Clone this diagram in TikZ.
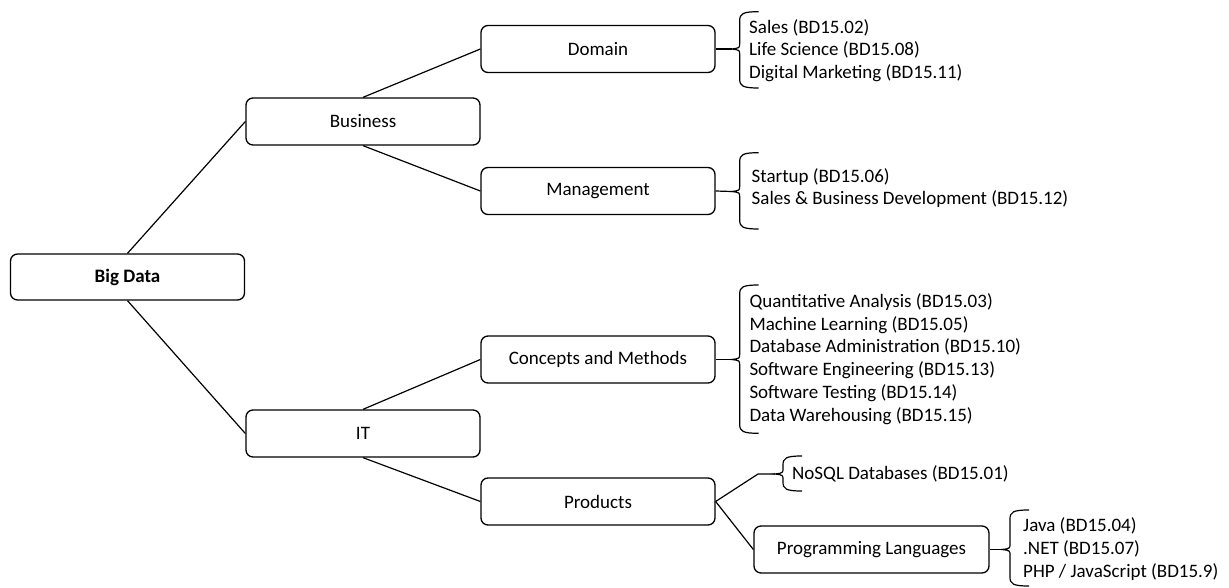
\documentclass[tikz,border=0pt]{standalone}
\usepackage{fontspec}
\setmainfont{Carlito}
\newcommand{\curlyb}[4]{%
  \draw[brc] (#1+27,#2) .. controls (#1+11,#2) and (#1+8,#2+2) .. (#1+8,#2+9)
    -- (#1+8,#3-6) .. controls (#1+8,#3-1) .. (#1,#3)
    .. controls (#1+8,#3+1) .. (#1+8,#3+6)
    -- (#1+8,#4-9) .. controls (#1+8,#4-2) and (#1+11,#4) .. (#1+27,#4);}
\begin{document}
\begin{tikzpicture}[x=1pt,y=-1pt,
  box/.style={draw, rounded corners=7pt, line width=1.3pt, minimum width=234pt,
    minimum height=47pt, inner sep=0pt, font=\fontsize{19}{22}\selectfont},
  conn/.style={line width=1.2pt},
  brc/.style={line width=1.2pt},
  lst/.style={anchor=west, align=left, inner sep=0pt,
    font=\fontsize{19}{22.7}\selectfont}]
\useasboundingbox (0,0) rectangle (1229,588);

\node[box, minimum height=46pt] (bd) at (127.5,277) {\textbf{Big Data}};
\node[box] (bus) at (363,121.5) {Business};
\node[box] (it) at (363,433.5) {IT};
\node[box] (dom) at (598,49) {Domain};
\node[box] (man) at (598,191) {Management};
\node[box] (con) at (598,359.5) {Concepts and Methods};
\node[box] (pro) at (598,501.5) {Products};
\node[box, minimum width=235pt] (pl) at (871.5,549.5) {Programming Languages};

\draw[conn] (bd.north) -- (bus.west);
\draw[conn] (bd.south) -- (it.west);
\draw[conn] (bus.north) -- (dom.west);
\draw[conn] (bus.south) -- (man.west);
\draw[conn] (it.north) -- (con.west);
\draw[conn] (it.south) -- (pro.west);

\coordinate (domt) at (731.7,49);
\coordinate (mant) at (731.7,191.5);
\coordinate (cont) at (731.7,359.5);
\coordinate (nsk) at (758,474);
\coordinate (nst) at (775,474);
\coordinate (plt) at (1002,549.5);

\draw[conn] (dom.east) -- (domt);
\draw[conn] (man.east) -- (mant);
\draw[conn] (con.east) -- (cont);
\draw[conn] (pro.east) -- (nsk) -- (nst);
\draw[conn] (pro.east) -- (pl.west);
\draw[conn] (pl.east) -- (plt);

\curlyb{731.7}{11.7}{49}{88}
\curlyb{731.7}{152.7}{191.5}{229}
\curlyb{731.7}{285}{359.5}{433.3}
\curlyb{775}{456}{474}{491}
\curlyb{1002}{510}{549.5}{586}

\node[lst] (domL) at (749,50.5) {Sales (BD15.02)\\Life Science (BD15.08)\\Digital Marketing (BD15.11)};
\node[lst] (manL) at (751.5,188) {Startup (BD15.06)\\Sales \& Business Development (BD15.12)};
\node[lst] (conL) at (749.3,359) {Quantitative Analysis (BD15.03)\\Machine Learning (BD15.05)\\Database Administration (BD15.10)\\Software Engineering (BD15.13)\\Software Testing (BD15.14)\\Data Warehousing (BD15.15)};
\node[lst] (nsL) at (792,473.5) {NoSQL Databases (BD15.01)};
\node[lst] (plL) at (1023,549) {Java (BD15.04)\\.NET (BD15.07)\\PHP / JavaScript (BD15.9)};
\end{tikzpicture}
\end{document}
